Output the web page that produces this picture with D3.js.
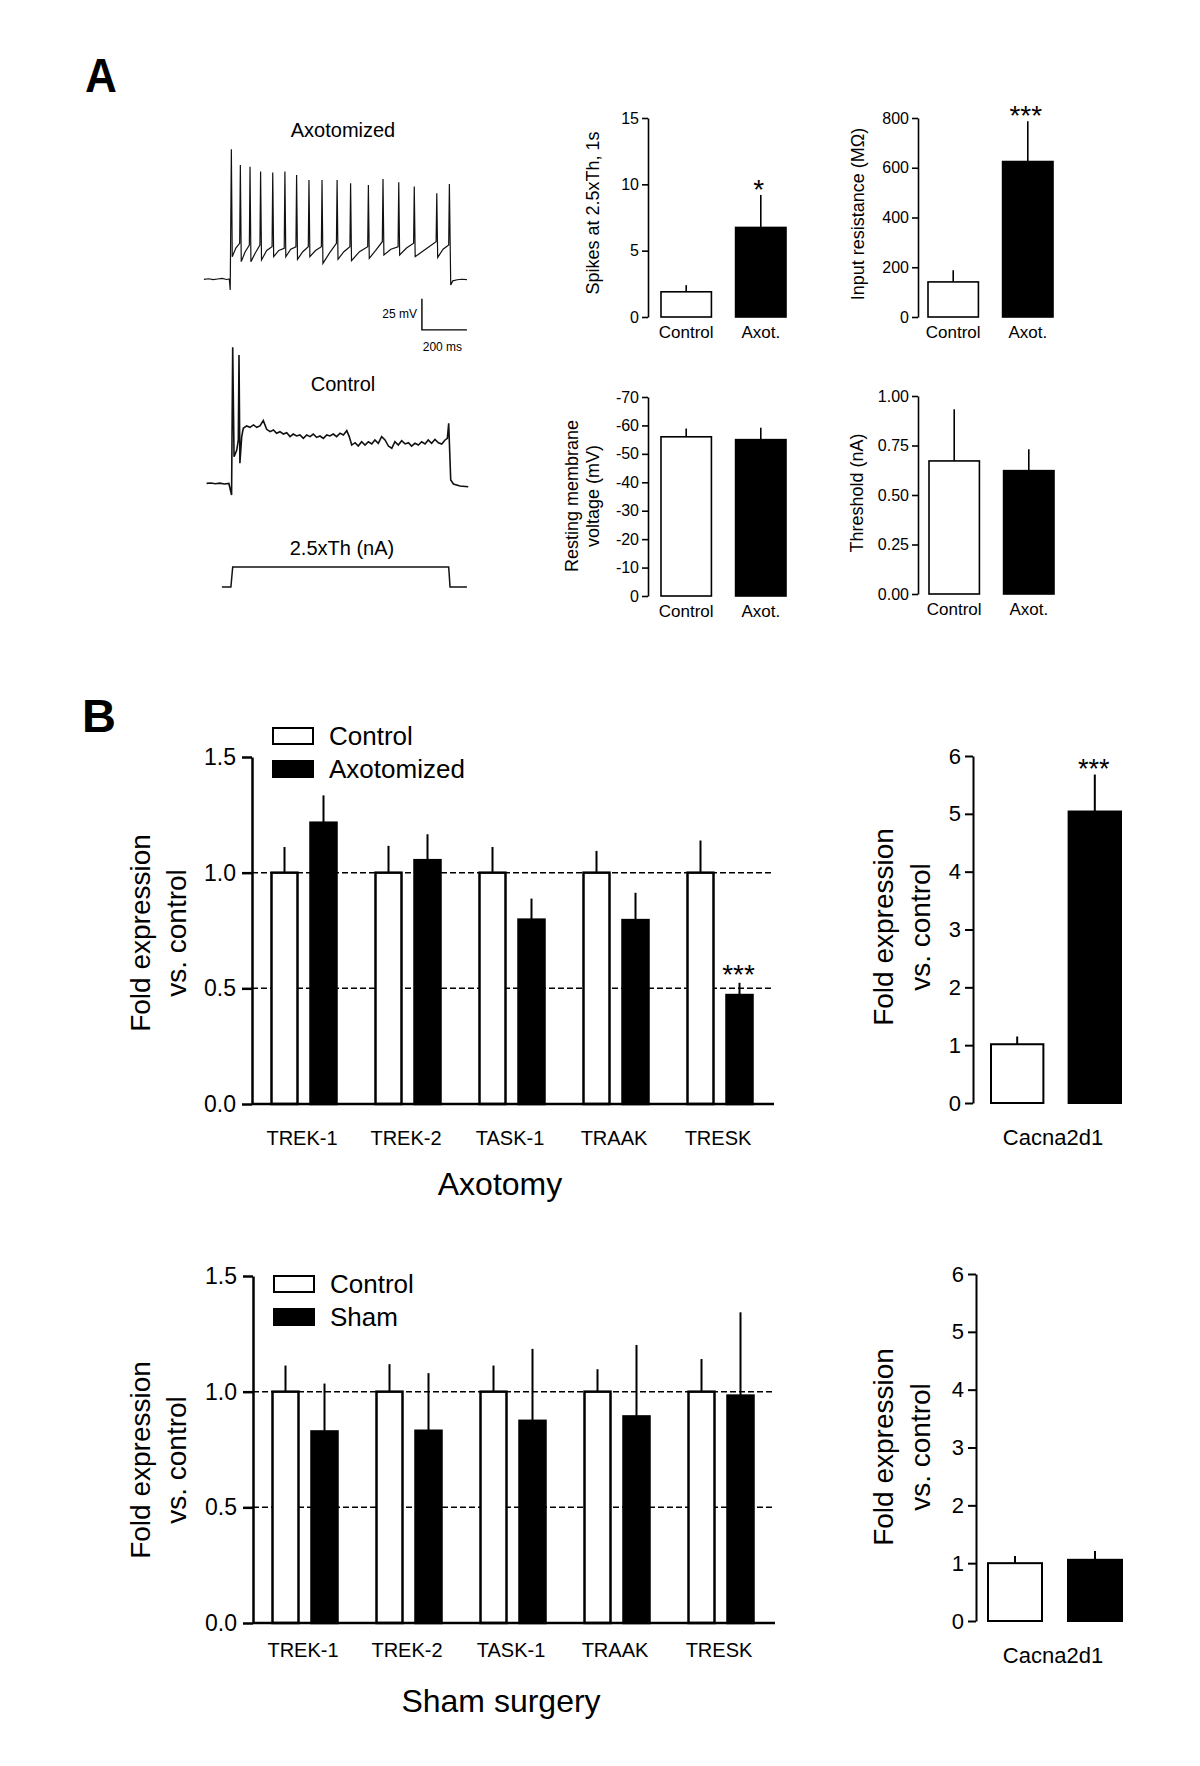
<!DOCTYPE html>
<html>
<head>
<meta charset="utf-8">
<script src="https://cdn.jsdelivr.net/npm/d3@7"></script>
<style>
  body { margin: 0; background: #fff; }
  svg { display: block; }
  text { font-family: "Liberation Sans", Arial, Helvetica, sans-serif; fill: #000; }
</style>
</head>
<body>
<script>
// ---------- panel A : electrophysiology summary ----------
const groupsA = ["Control", "Axot."];
const spikesMean = [1.9, 6.75];
const spikesErr = [0.5, 2.45];
const spikesSig = ["", "*"];
const rinMean = [141, 625];
const rinErr = [47, 162];
const rinSig = ["", "***"];
const rmpMean = [-56, -55];
const rmpErr = [2.9, 4.2];
const thrMean = [0.672, 0.623];
const thrErr = [0.261, 0.108];

// ---------- panel A : example traces (ms, mV) ----------
const axoRestT = [-116, -95, -75, -55, -35, -15, -3, 1];
const axoRestV = [-56.3, -55.8, -56.5, -56.0, -55.5, -56.4, -56.0, -64.9];
const axoSpikeT = [6, 46, 89, 136, 190, 244, 296, 351, 409, 476, 536, 615, 680, 750, 819, 919, 975];
const axoSpikeV = [48.6, 35.9, 34.6, 30.6, 29.8, 30.6, 27.9, 23.8, 23.8, 23.8, 21.2, 19.8, 24.6, 22.0, 18.5, 13.1, 20.6];
const axoTroughV = [-38.0, -42.0, -42.0, -40.7, -38.0, -38.0, -40.1, -38.0, -43.4, -40.1, -41.2, -39.3, -36.6, -36.6, -38.0, -38.6];
const axoMidV = [-31, -34, -35, -33, -33, -32, -34, -33, -35, -34, -34, -33, -32, -31, -32, -32];
const axoPreV = [-27.2, -28.6, -28.6, -30.0, -31.3, -30.0, -30.0, -30.0, -27.2, -30.0, -30.0, -25.9, -30.0, -27.2, -25.9, -28.6];
const axoEndT = [981, 990, 1010, 1030, 1053];
const axoEndV = [-60.8, -57.5, -56.6, -56.2, -56.5];

const ctrlT = [-104, -85, -65, -45, -25, -5, 7, 12, 18, 30, 37, 40, 44, 52,
  59, 74, 89, 104, 119, 133, 148, 163, 178, 193, 207, 222, 237, 252, 267, 281, 296, 311, 326, 341,
  356, 370, 385, 400, 415, 430, 444, 459, 474, 489, 504, 519, 530, 541, 556, 570, 585, 600, 615, 630,
  644, 659, 674, 689, 704, 719, 733, 748, 763, 778, 793, 807, 822, 837, 852, 867, 881, 896, 911, 926,
  941, 956, 966, 972, 981, 993, 1022, 1059];
const ctrlV = [-56.3, -56.0, -56.6, -56.1, -56.8, -56.4, -65.7, 53.4, -34.8, -29.4, -21.3, 47.2, -40.1, -18.6,
  -11.9, -10.0, -11.1, -9.2, -11.1, -10.0, -5.7, -12.7, -14.6, -13.3, -15.9, -14.6, -16.5, -15.4, -18.6, -16.5, -18.1, -17.3, -20.0, -17.3,
  -18.6, -16.5, -19.2, -18.1, -20.0, -17.3, -18.1, -16.5, -18.6, -15.9, -17.3, -13.8, -18.6, -25.4, -23.5, -26.2, -22.7, -25.4, -22.7, -24.5,
  -21.3, -24.0, -18.6, -21.3, -26.2, -28.0, -22.7, -25.4, -21.9, -24.5, -23.5, -26.2, -24.0, -25.4, -22.7, -24.5, -21.3, -24.0, -20.8, -23.5,
  -24.5, -21.3, -20.0, -7.9, -53.6, -56.8, -58.4, -59.0];

// stimulus step (0 = off, 1 = 2.5xTh)
const stimT = [-36, 4, 12, 972, 978, 1053];
const stimV = [0, 0, 1, 1, 0, 0];

// ---------- panel B : qPCR ----------
const channels = ["TREK-1", "TREK-2", "TASK-1", "TRAAK", "TRESK"];
const axoCtrl = [1, 1, 1, 1, 1];
const axoCtrlErr = [0.111, 0.116, 0.111, 0.094, 0.139];
const axoMean = [1.216, 1.054, 0.797, 0.795, 0.471];
const axoErr = [0.118, 0.112, 0.091, 0.118, 0.053];
const axoSig = ["", "", "", "", "***"];
const shamCtrl = [1, 1, 1, 1, 1];
const shamCtrlErr = [0.113, 0.119, 0.113, 0.097, 0.141];
const shamMean = [0.828, 0.831, 0.874, 0.893, 0.983];
const shamErr = [0.207, 0.249, 0.311, 0.309, 0.36];
const shamSig = ["", "", "", "", ""];
const refLevels = [0.5, 1.0];

const cacnaAxoMean = [1.016, 5.04];
const cacnaAxoErr = [0.134, 0.64];
const cacnaAxoSig = ["", "***"];
const cacnaShamMean = [1.0, 1.058];
const cacnaShamErr = [0.125, 0.152];
const cacnaShamSig = ["", ""];

const svg = d3.select("body").append("svg")
    .attr("width", 1200)
    .attr("height", 1766);

// panel letters
svg.append("text").attr("transform", "translate(85,92) scale(0.92,1)")
    .style("font-size", "48px").style("font-weight", "bold").text("A");
svg.append("text").attr("transform", "translate(82,732)")
    .style("font-size", "47px").style("font-weight", "bold").text("B");

// ---------------- traces ----------------
const tx = d3.scaleLinear().domain([0, 200]).range([230, 275]);
const yAxo = d3.scaleLinear().domain([-56, 44]).range([279, 155]);
const yCtrl = d3.scaleLinear().domain([-56, 44]).range([483, 359]);
const yStim = d3.scaleLinear().domain([0, 1]).range([587, 567]);

let axoPts = axoRestT.map((t, i) => [t, axoRestV[i]]);
axoSpikeT.forEach((t, i) => {
    axoPts.push([t, axoSpikeV[i]]);
    if (i < axoTroughV.length) {
        const next = axoSpikeT[i + 1];
        axoPts.push([t + 4, axoTroughV[i]]);
        axoPts.push([(t + next) / 2, axoMidV[i]]);
        axoPts.push([next - 3, axoPreV[i]]);
    }
});
axoEndT.forEach((t, i) => axoPts.push([t, axoEndV[i]]));
const ctrlPts = ctrlT.map((t, i) => [t, ctrlV[i]]);
const stimPts = stimT.map((t, i) => [t, stimV[i]]);

svg.append("path").attr("d", d3.line().x(d => tx(d[0])).y(d => yAxo(d[1]))(axoPts))
    .attr("fill", "none").attr("stroke", "#111").attr("stroke-width", 1.2);
svg.append("path").attr("d", d3.line().x(d => tx(d[0])).y(d => yCtrl(d[1]))(ctrlPts))
    .attr("fill", "none").attr("stroke", "#111").attr("stroke-width", 1.6);
svg.append("path").attr("d", d3.line().x(d => tx(d[0])).y(d => yStim(d[1]))(stimPts))
    .attr("fill", "none").attr("stroke", "#111").attr("stroke-width", 1.5);

// scale bar 25 mV / 200 ms
const sbT = 853, sbV = -97;
svg.append("path")
    .attr("d", `M${tx(sbT)},${yAxo(sbV + 25)}V${yAxo(sbV)}H${tx(sbT + 200)}`)
    .attr("fill", "none").attr("stroke", "#000").attr("stroke-width", 1.4);
svg.append("text").attr("x", tx(sbT) - 5).attr("y", yAxo(sbV + 12.5) + 4)
    .attr("text-anchor", "end").style("font-size", "12px").text("25 mV");
svg.append("text").attr("x", tx(sbT + 100) - 2).attr("y", yAxo(sbV) + 21)
    .attr("text-anchor", "middle").style("font-size", "12px").text("200 ms");

svg.append("text").attr("x", 343).attr("y", 137).attr("text-anchor", "middle")
    .style("font-size", "20px").text("Axotomized");
svg.append("text").attr("x", 343).attr("y", 391).attr("text-anchor", "middle")
    .style("font-size", "20px").text("Control");
svg.append("text").attr("x", 342).attr("y", 555).attr("text-anchor", "middle")
    .style("font-size", "20px").text("2.5xTh (nA)");

// ---------------- small bar charts (panel A) ----------------
function smallBars(o) {
    const g = svg.append("g");
    const y = d3.scaleLinear().domain(o.domain).range([o.y0, o.y1]);
    const x = d3.scaleBand().domain(groupsA).range(o.band).paddingInner(0.324);
    g.append("g").attr("transform", `translate(${o.ax},0)`)
        .call(d3.axisLeft(y).tickValues(o.ticks).tickFormat(o.fmt).tickSize(6).tickSizeOuter(0).tickPadding(3))
        .call(a => {
            a.selectAll("path,line").attr("stroke", "#000").attr("stroke-width", 1.6);
            a.selectAll("text").style("font-size", "16px")
                .style("font-family", '"Liberation Sans", Arial, sans-serif').attr("fill", "#000");
        });
    const rows = groupsA.map((c, i) => ({ c, i, m: o.mean[i], e: o.err[i], s: o.sig ? o.sig[i] : "" }));
    const sgn = d => (d.m < 0 ? -1 : 1);
    g.selectAll("line.err").data(rows).join("line")
        .attr("x1", d => x(d.c) + x.bandwidth() / 2).attr("x2", d => x(d.c) + x.bandwidth() / 2)
        .attr("y1", d => y(d.m)).attr("y2", d => y(d.m + sgn(d) * d.e))
        .attr("stroke", "#000").attr("stroke-width", 1.6);
    g.selectAll("rect").data(rows).join("rect")
        .attr("x", d => x(d.c)).attr("width", x.bandwidth())
        .attr("y", d => y(d.m)).attr("height", d => y(0) - y(d.m))
        .attr("fill", d => (d.i === 0 ? "#fff" : "#000"))
        .attr("stroke", "#000").attr("stroke-width", 1.6);
    g.selectAll("text.sig").data(rows.filter(d => d.s)).join("text")
        .attr("x", d => x(d.c) + x.bandwidth() / 2 - 2).attr("y", d => y(d.m + sgn(d) * d.e) + 4)
        .attr("text-anchor", "middle").style("font-size", "28px").text(d => d.s);
    g.selectAll("text.cat").data(rows).join("text")
        .attr("x", d => x(d.c) + x.bandwidth() / 2).attr("y", o.y0 + 21)
        .attr("text-anchor", "middle").style("font-size", "17px").text(d => d.c);
    o.label.forEach((l, k) => {
        g.append("text")
            .attr("transform", `translate(${o.lx[k]},${o.ly}) rotate(-90)`)
            .attr("dy", "0.35em").attr("text-anchor", "middle")
            .style("font-size", "18px").text(l);
    });
}

smallBars({ ax: 648, y0: 317, y1: 118, domain: [0, 15], band: [661, 786], ticks: [0, 5, 10, 15], fmt: String,
    mean: spikesMean, err: spikesErr, sig: spikesSig, label: ["Spikes at 2.5xTh, 1s"], lx: [593], ly: 213 });
smallBars({ ax: 918, y0: 317, y1: 118, domain: [0, 800], band: [928, 1053], ticks: [0, 200, 400, 600, 800], fmt: String,
    mean: rinMean, err: rinErr, sig: rinSig, label: ["Input resistance (M\u03A9)"], lx: [858], ly: 214 });
smallBars({ ax: 648, y0: 596, y1: 397, domain: [0, -70], band: [661, 786], ticks: d3.range(0, -71, -10), fmt: String,
    mean: rmpMean, err: rmpErr, label: ["Resting membrane", "voltage (mV)"], lx: [572, 593], ly: 496 });
smallBars({ ax: 918, y0: 594, y1: 396, domain: [0, 1], band: [929, 1054], ticks: [0, 0.25, 0.5, 0.75, 1], fmt: d3.format(".2f"),
    mean: thrMean, err: thrErr, label: ["Threshold (nA)"], lx: [857], ly: 493 });

// ---------------- channel panels (panel B) ----------------
function channelPanel(o) {
    const g = svg.append("g");
    const y = d3.scaleLinear().domain([0, 1.5]).range([o.y0, o.y1]);
    const x = d3.scaleBand().domain(channels).range([o.ax, o.ax + 520]);
    const sub = d3.scaleBand().domain([0, 1]).range([19.5, 84.5]).paddingInner(1 / 3);

    g.selectAll("line.ref").data(refLevels).join("line")
        .attr("x1", o.ax).attr("x2", o.ax + 522)
        .attr("y1", d => y(d)).attr("y2", d => y(d))
        .attr("stroke", "#000").attr("stroke-width", 1.5).attr("stroke-dasharray", "6,3");

    const rows = [];
    channels.forEach((c, i) => {
        rows.push({ c, k: 0, m: o.ctrl[i], e: o.ctrlErr[i], s: "" });
        rows.push({ c, k: 1, m: o.exp[i], e: o.expErr[i], s: o.sig[i] });
    });
    const cx = d => x(d.c) + sub(d.k) + sub.bandwidth() / 2;
    g.selectAll("line.err").data(rows).join("line")
        .attr("x1", cx).attr("x2", cx)
        .attr("y1", d => y(d.m)).attr("y2", d => y(d.m + d.e))
        .attr("stroke", "#000").attr("stroke-width", 2);
    g.selectAll("rect.bar").data(rows).join("rect")
        .attr("x", d => x(d.c) + sub(d.k)).attr("width", sub.bandwidth())
        .attr("y", d => y(d.m)).attr("height", d => y(0) - y(d.m))
        .attr("fill", d => (d.k === 0 ? "#fff" : "#000"))
        .attr("stroke", "#000").attr("stroke-width", 2.5);
    g.selectAll("text.sig").data(rows.filter(d => d.s)).join("text")
        .attr("x", d => cx(d) - 1).attr("y", d => y(d.m + d.e) + 1)
        .attr("text-anchor", "middle").style("font-size", "28px").text(d => d.s);

    // x axis line
    g.append("line").attr("x1", o.ax).attr("x2", o.ax + 522).attr("y1", o.y0).attr("y2", o.y0)
        .attr("stroke", "#000").attr("stroke-width", 2.5);
    g.append("g").attr("transform", `translate(${o.ax},0)`)
        .call(d3.axisLeft(y).tickValues([0, 0.5, 1, 1.5]).tickFormat(d3.format(".1f"))
            .tickSize(10).tickSizeOuter(0).tickPadding(6))
        .call(a => {
            a.selectAll("path,line").attr("stroke", "#000").attr("stroke-width", 2.5);
            a.selectAll("text").style("font-size", "23px")
                .style("font-family", '"Liberation Sans", Arial, sans-serif').attr("fill", "#000");
        });

    g.selectAll("text.cat").data(channels).join("text")
        .attr("x", d => x(d) + x.bandwidth() / 2 - 2).attr("y", o.catY)
        .attr("text-anchor", "middle").style("font-size", "20px").text(d => d);

    // legend
    o.legend.forEach((l, k) => {
        g.append("rect").attr("x", o.ax + 21).attr("y", o.legY[k]).attr("width", 40).attr("height", 16)
            .attr("fill", k === 0 ? "#fff" : "#000").attr("stroke", "#000").attr("stroke-width", 2);
        g.append("text").attr("x", o.ax + 77).attr("y", o.legY[k] + 17)
            .style("font-size", "26px").text(l);
    });

    ["Fold expression", "vs. control"].forEach((l, k) => {
        g.append("text").attr("transform", `translate(${[140, 176][k]},${o.ly}) rotate(-90)`)
            .attr("dy", "0.35em").attr("text-anchor", "middle")
            .style("font-size", "28px").text(l);
    });
    g.append("text").attr("x", o.ax + 248).attr("y", o.titleY)
        .attr("text-anchor", "middle").style("font-size", "32px").text(o.title);
}

channelPanel({ ax: 252, y0: 1104, y1: 757, ctrl: axoCtrl, ctrlErr: axoCtrlErr, exp: axoMean, expErr: axoErr, sig: axoSig,
    catY: 1145, legend: ["Control", "Axotomized"], legY: [728, 761], ly: 933, title: "Axotomy", titleY: 1195 });
channelPanel({ ax: 253, y0: 1623, y1: 1276, ctrl: shamCtrl, ctrlErr: shamCtrlErr, exp: shamMean, expErr: shamErr, sig: shamSig,
    catY: 1657, legend: ["Control", "Sham"], legY: [1276, 1309], ly: 1460, title: "Sham surgery", titleY: 1712 });

// ---------------- Cacna2d1 panels ----------------
function cacnaPanel(o) {
    const g = svg.append("g");
    const y = d3.scaleLinear().domain([0, 6]).range([o.y0, o.y1]);
    const x = d3.scaleBand().domain([0, 1]).range(o.band).paddingInner(0.325);
    const rows = o.mean.map((m, k) => ({ k, m, e: o.err[k], s: o.sig[k] }));
    const cx = d => x(d.k) + x.bandwidth() / 2;
    g.append("g").attr("transform", `translate(${o.ax},0)`)
        .call(d3.axisLeft(y).ticks(6).tickFormat(d3.format("d")).tickSize(8).tickSizeOuter(0).tickPadding(4))
        .call(a => {
            a.selectAll("path,line").attr("stroke", "#000").attr("stroke-width", 2);
            a.selectAll("text").style("font-size", "22px")
                .style("font-family", '"Liberation Sans", Arial, sans-serif').attr("fill", "#000");
        });
    g.selectAll("line.err").data(rows).join("line")
        .attr("x1", cx).attr("x2", cx)
        .attr("y1", d => y(d.m)).attr("y2", d => y(d.m + d.e))
        .attr("stroke", "#000").attr("stroke-width", 2);
    g.selectAll("rect.bar").data(rows).join("rect")
        .attr("x", d => x(d.k)).attr("width", x.bandwidth())
        .attr("y", d => y(d.m)).attr("height", d => y(0) - y(d.m))
        .attr("fill", d => (d.k === 0 ? "#fff" : "#000"))
        .attr("stroke", "#000").attr("stroke-width", 2);
    g.selectAll("text.sig").data(rows.filter(d => d.s)).join("text")
        .attr("x", d => cx(d) - 1).attr("y", d => y(d.m + d.e) + 3)
        .attr("text-anchor", "middle").style("font-size", "27px").text(d => d.s);
    g.append("text").attr("x", 1053).attr("y", o.catY).attr("text-anchor", "middle")
        .style("font-size", "22px").text("Cacna2d1");
    ["Fold expression", "vs. control"].forEach((l, k) => {
        g.append("text").attr("transform", `translate(${[883, 920][k]},${o.ly}) rotate(-90)`)
            .attr("dy", "0.35em").attr("text-anchor", "middle")
            .style("font-size", "28px").text(l);
    });
}

cacnaPanel({ ax: 973, y0: 1103, y1: 756, band: [991, 1121], mean: cacnaAxoMean, err: cacnaAxoErr, sig: cacnaAxoSig,
    catY: 1145, ly: 927 });
cacnaPanel({ ax: 976, y0: 1621, y1: 1274, band: [988, 1122], mean: cacnaShamMean, err: cacnaShamErr, sig: cacnaShamSig,
    catY: 1663, ly: 1447 });
</script>
</body>
</html>
